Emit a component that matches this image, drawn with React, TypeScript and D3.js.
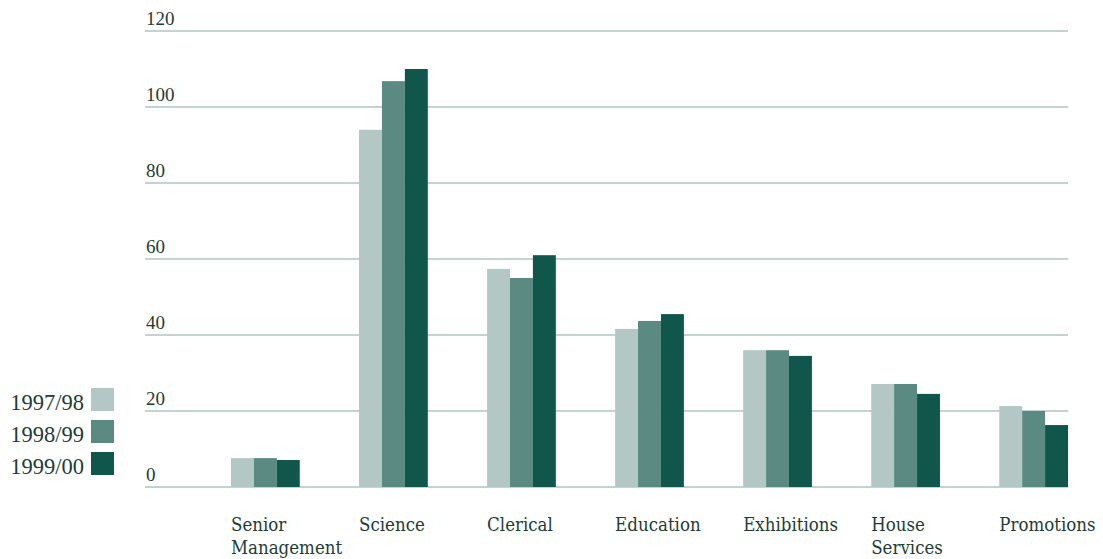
import React from 'react';
import * as d3 from 'd3';

const categories = ['Senior\nManagement', 'Science', 'Clerical', 'Education', 'Exhibitions', 'House\nServices', 'Promotions'];
const seriesNames = ['1997/98', '1998/99', '1999/00'];
const values9798 = [7.6, 94, 57.4, 41.6, 36, 27.1, 21.3];
const values9899 = [7.6, 106.8, 55, 43.7, 36, 27.1, 20];
const values9900 = [7.1, 110, 61, 45.5, 34.5, 24.5, 16.3];
const yTicks = [0, 20, 40, 60, 80, 100, 120];
const colors = ['#b3c8c5', '#5a8a82', '#11564b'];

const width = 1103;
const height = 559;
const textColor = '#1e3d35';
const gridColor = '#86a9a2';

export default function App() {
    const series = [values9798, values9899, values9900];

    const y = d3.scaleLinear().domain([0, 120]).range([487, 31]);
    const x = d3.scaleBand<string>()
        .domain(categories)
        .range([231, 1068])
        .paddingInner(0.463)
        .paddingOuter(0);
    const xs = d3.scaleBand<number>()
        .domain(d3.range(seriesNames.length))
        .range([0, x.bandwidth()]);

    return (
        <svg width={width} height={height}
            style={{ position: 'absolute', left: 0, top: 0 }}>
            <g>
                {yTicks.map(t => (
                    <g key={t}>
                        <line x1={145} x2={1068} y1={y(t)} y2={y(t)}
                            stroke={gridColor} strokeWidth={1} />
                        <text x={146} y={y(t) - 6} fill={textColor}
                            fontFamily="Liberation Serif" fontSize={19}>{t}</text>
                    </g>
                ))}
            </g>
            <g>
                {categories.map((c, i) => (
                    <g key={c} transform={`translate(${x(c)},0)`}>
                        {series.map((s, j) => (
                            <rect key={j} x={xs(j)} width={xs.bandwidth()}
                                y={y(s[i])} height={y(0) - y(s[i])}
                                fill={colors[j]} />
                        ))}
                        <text y={531} fill={textColor}
                            fontFamily="DejaVu Serif Condensed, DejaVu Serif"
                            style={{ fontStretch: 'condensed' }} fontSize={18.5}>
                            {c.split('\n').map((line, k) => (
                                <tspan key={k} x={0} dy={k === 0 ? 0 : 23}>{line}</tspan>
                            ))}
                        </text>
                    </g>
                ))}
            </g>
            <g>
                {seriesNames.map((n, j) => (
                    <g key={n} transform={`translate(0,${388 + j * 32})`}>
                        <rect x={91} y={0} width={23} height={23} fill={colors[j]} />
                        <text x={84} y={22} textAnchor="end" fill={textColor}
                            fontFamily="Liberation Serif" fontSize={22.5}>{n}</text>
                    </g>
                ))}
            </g>
        </svg>
    );
}
